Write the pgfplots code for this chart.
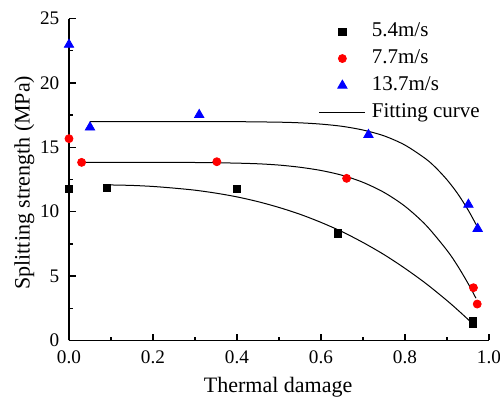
\documentclass[border=0pt]{standalone}
\usepackage{fontspec}
\setmainfont{Liberation Serif}
\usepackage{pgfplots}
\pgfplotsset{compat=1.18}
\pgfplotsset{
  markleg/.style={legend image code/.code={\draw[mark repeat=2,mark phase=2,##1] plot coordinates {(0pt,0pt) (11.5pt,0pt) (23pt,0pt)};}},
  lineleg/.style={legend image code/.code={\draw[##1] (0pt,0pt) -- (23pt,0pt);}},
}
\begin{document}
\begin{tikzpicture}
\begin{axis}[
  width=210pt, height=161pt, scale only axis,
  xmin=0, xmax=1, ymin=0, ymax=25,
  axis x line*=bottom, axis y line*=left,
  axis line style={line width=0.65pt},
  xtick={0,0.2,0.4,0.6,0.8,1.0}, minor xtick={0.1,0.3,0.5,0.7,0.9},
  ytick={0,5,10,15,20,25}, minor ytick={2.5,7.5,12.5,17.5,22.5},
  tick style={black, line width=0.65pt},
  major tick length=3.3pt, minor tick length=1.8pt,
  tick align=inside,
  /pgf/number format/assume math mode=true,
  tick label style={font=\rmfamily\fontsize{9.6}{11}\selectfont},
  xticklabel style={yshift=-1.8pt, /pgf/number format/fixed, /pgf/number format/fixed zerofill, /pgf/number format/precision=1},
  yticklabel style={xshift=-1.3pt},
  every axis x label/.style={at={(axis description cs:0.498,-0.16)}, anchor=base, font=\rmfamily\fontsize{11}{13}\selectfont},
  every axis y label/.style={at={(axis description cs:-0.094,0.49)}, rotate=90, anchor=base, font=\rmfamily\fontsize{11}{13}\selectfont},
  xlabel={Thermal damage},
  ylabel={Splitting strength (MPa)},
  legend style={draw=none, fill=none, at={(axis description cs:0.595,0.989)}, anchor=north west,
    inner sep=0pt, outer sep=0pt, row sep=4pt, font=\rmfamily\fontsize{10.5}{12}\selectfont,
    nodes={inner xsep=3pt, inner ysep=0pt, text height=7pt, text depth=2.5pt}},
  legend cell align=left,
]
% fitting curves
\addplot[black, line width=0.5pt, smooth, forget plot] coordinates {
 (0.094,12.08) (0.15,12.04) (0.2,11.96) (0.25,11.83) (0.3,11.67) (0.35,11.44) (0.4,11.15)
 (0.45,10.78) (0.5,10.33) (0.55,9.80) (0.6,9.17) (0.65,8.45) (0.7,7.61) (0.75,6.67)
 (0.8,5.60) (0.85,4.42) (0.9,3.10) (0.93,2.24) (0.958,1.40)};
\addplot[black, line width=0.5pt, smooth, forget plot] coordinates {
 (0.03,13.83) (0.1,13.83) (0.2,13.83) (0.3,13.82) (0.35,13.80) (0.4,13.77) (0.45,13.72)
 (0.5,13.62) (0.55,13.45) (0.6,13.20) (0.65,12.83) (0.7,12.28) (0.75,11.50) (0.8,10.42)
 (0.85,8.95) (0.9,7.00) (0.925,5.81) (0.95,4.44) (0.969,3.28)};
\addplot[black, line width=0.5pt, smooth, forget plot] coordinates {
 (0.05,17.0) (0.1,17.0) (0.2,17.0) (0.3,17.0) (0.4,16.99) (0.5,16.95) (0.55,16.90)
 (0.6,16.80) (0.65,16.63) (0.7,16.34) (0.75,15.89) (0.8,15.17) (0.85,14.09) (0.875,13.36)
 (0.9,12.48) (0.925,11.42) (0.95,10.15) (0.971,8.9)};
% data
\addplot[only marks, mark=square*, mark size=1.8pt, black, markleg]
 coordinates {(0,11.74) (0.091,11.82) (0.40,11.74) (0.641,8.32) (0.962,1.52) (0.962,1.33)};
\addlegendentry{5.4m/s}
\addplot[only marks, mark=*, mark size=2pt, red, mark options={fill=red, draw=red}, markleg]
 coordinates {(0,15.67) (0.030,13.83) (0.352,13.88) (0.661,12.59) (0.963,4.1) (0.972,2.83)};
\addlegendentry{7.7m/s}
\addplot[only marks, mark=triangle*, mark size=2.7pt, blue, mark options={fill=blue, draw=blue}, markleg]
 coordinates {(0,22.97) (0.05,16.55) (0.31,17.52) (0.713,15.97) (0.951,10.55) (0.973,8.68)};
\addlegendentry{13.7m/s}
\addlegendimage{black, line width=0.5pt, lineleg}
\addlegendentry{Fitting curve}
\end{axis}
\pgfresetboundingbox
\useasboundingbox (-34.5pt,-28.25pt) rectangle (215.5pt,170.25pt);
\end{tikzpicture}
\end{document}
